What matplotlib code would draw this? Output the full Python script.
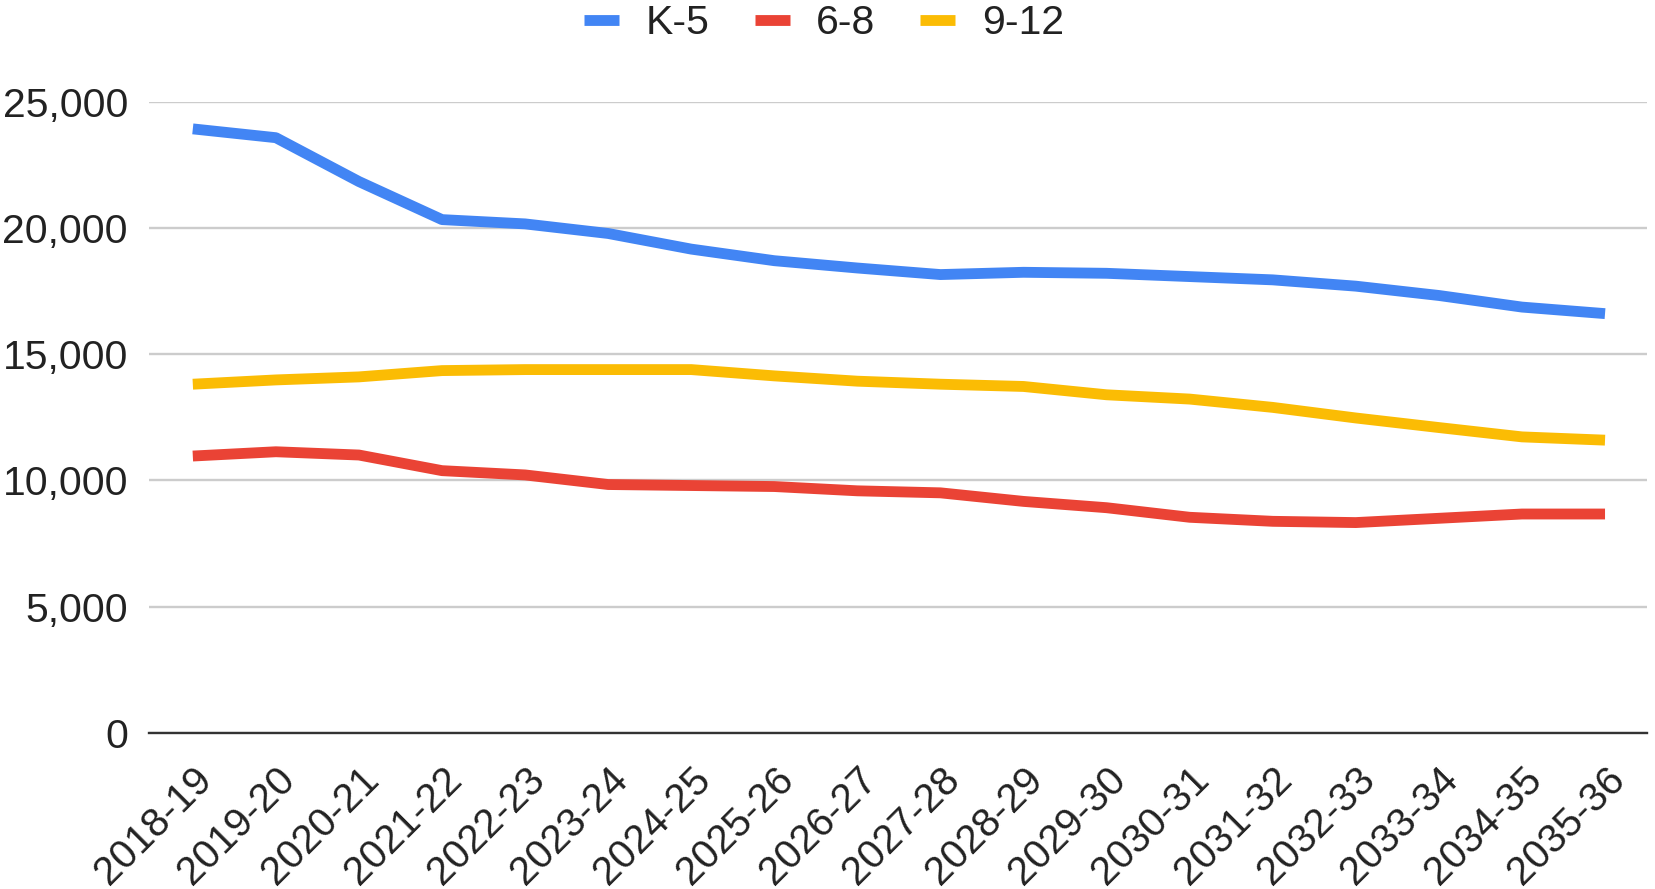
import matplotlib
matplotlib.use("Agg")
import matplotlib.pyplot as plt
from matplotlib.ticker import FuncFormatter

years = ['2018-19', '2019-20', '2020-21', '2021-22', '2022-23', '2023-24',
         '2024-25', '2025-26', '2026-27', '2027-28', '2028-29', '2029-30',
         '2030-31', '2031-32', '2032-33', '2033-34', '2034-35', '2035-36']

k5 = [23950, 23600, 21860, 20350, 20180, 19800, 19180, 18720, 18430,
      18170, 18260, 18220, 18090, 17960, 17710, 17340, 16880, 16620]
g6_8 = [10970, 11140, 11010, 10390, 10220, 9840, 9800, 9760, 9590,
        9510, 9170, 8920, 8540, 8380, 8330, 8500, 8670, 8670]
g9_12 = [13820, 13990, 14110, 14360, 14400, 14400, 14400, 14150, 13940,
         13820, 13730, 13400, 13230, 12900, 12480, 12100, 11730, 11600]

series = [('K-5', k5, '#4285F4'), ('6-8', g6_8, '#EA4335'), ('9-12', g9_12, '#FBBC04')]

plt.rcParams['font.family'] = ['Liberation Sans', 'DejaVu Sans']

fig = plt.figure(figsize=(16.55, 8.89), dpi=100)
ax = fig.add_axes([0.0899, 0.176, 0.905, 0.7088])

x = list(range(len(years)))
for name, vals, color in series:
    ax.plot(x, vals, color=color, linewidth=7.8, label=name,
            solid_capstyle='butt', solid_joinstyle='round')

ax.set_xlim(-0.53, len(years) - 0.5)
ax.set_ylim(0, 25000)
ax.set_yticks([0, 5000, 10000, 15000, 20000, 25000])
ax.yaxis.set_major_formatter(FuncFormatter(lambda v, p: f'{int(v):,}'))
ax.set_xticks(x)
ax.set_xticklabels(years, rotation=45, ha='right', rotation_mode='anchor')

ax.grid(axis='y', color='#cccccc', linewidth=1.7)
ax.set_axisbelow(True)
for s in ['top', 'right', 'left']:
    ax.spines[s].set_visible(False)
ax.spines['bottom'].set_color('#333333')
ax.spines['bottom'].set_linewidth(1.7)
ax.spines['bottom'].set_zorder(1)

ax.tick_params(axis='y', length=0, pad=15, labelsize=29.5, labelcolor='#222222')
ax.tick_params(axis='x', length=0, pad=20, labelsize=29, labelcolor='#222222')

fig.legend(loc='center', bbox_to_anchor=(0.498, 0.974), ncol=3, frameon=False,
           fontsize=29.5, handlelength=0.85, handletextpad=0.65, columnspacing=1.1,
           labelcolor='#222222')

fig.savefig('out.png', dpi=100)
